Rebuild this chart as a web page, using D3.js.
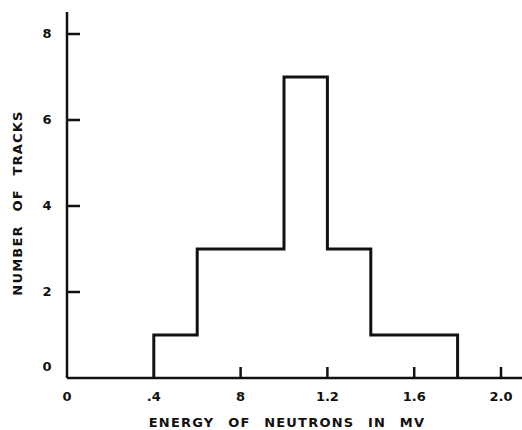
<!DOCTYPE html>
<html>
<head>
<meta charset="utf-8">
<script src="https://cdn.jsdelivr.net/npm/d3@7"></script>
<style>
  body { margin: 0; background: #fff; }
  text { font-family: "DejaVu Sans", sans-serif; font-weight: bold; fill: #111; }
</style>
</head>
<body>
<svg id="chart" width="522" height="430"></svg>
<script>
// histogram bins (energy in MV) and counts
var binEdges = [0.4, 0.6, 1.0, 1.2, 1.4, 1.8];
var counts = [1, 3, 7, 3, 1];
var xTicks = [0, 0.4, 0.8, 1.2, 1.6, 2.0];
var xTickLabels = ["0", ".4", "8", "1.2", "1.6", "2.0"];
var yTicks = [0, 2, 4, 6, 8];

var svg = d3.select("#chart");
var x = d3.scaleLinear().domain([0, 2.0]).range([67, 501]);
var y = d3.scaleLinear().domain([0, 8]).range([378, 34]);
var ink = "#111";

// axes
svg.append("line").attr("x1", x(0)).attr("x2", 522).attr("y1", y(0)).attr("y2", y(0))
  .attr("stroke", ink).attr("stroke-width", 2.5);
svg.append("line").attr("x1", x(0)).attr("x2", x(0)).attr("y1", y(0)).attr("y2", 12)
  .attr("stroke", ink).attr("stroke-width", 2.5);

// y ticks point inward
svg.selectAll(".ytick").data(yTicks.filter(function(d) { return d > 0; })).enter()
  .append("line").attr("class", "ytick")
  .attr("x1", x(0)).attr("x2", x(0) + 13)
  .attr("y1", function(d) { return y(d); }).attr("y2", function(d) { return y(d); })
  .attr("stroke", ink).attr("stroke-width", 2.5);
svg.selectAll(".ylab").data(yTicks).enter()
  .append("text").attr("class", "ylab")
  .attr("x", 47).attr("y", function(d) { return d === 0 ? y(d) - 12 : y(d) - 1; })
  .attr("text-anchor", "middle").attr("dominant-baseline", "central")
  .attr("font-size", 13).text(function(d) { return d; });

// x ticks point up
svg.selectAll(".xtick").data(xTicks.filter(function(d) { return d > 0.5; })).enter()
  .append("line").attr("class", "xtick")
  .attr("x1", function(d) { return x(d); }).attr("x2", function(d) { return x(d); })
  .attr("y1", y(0)).attr("y2", y(0) - 11)
  .attr("stroke", ink).attr("stroke-width", 2.5);
svg.selectAll(".xlab").data(xTicks).enter()
  .append("text").attr("class", "xlab")
  .attr("x", function(d) { return x(d); }).attr("y", 396)
  .attr("text-anchor", "middle").attr("dominant-baseline", "central")
  .attr("font-size", 13).text(function(d, i) { return xTickLabels[i]; });

// histogram outline
var pts = [[binEdges[0], 0]];
counts.forEach(function(c, i) {
  pts.push([binEdges[i], c]);
  pts.push([binEdges[i + 1], c]);
});
pts.push([binEdges[binEdges.length - 1], 0]);
svg.append("path")
  .attr("d", d3.line().x(function(d) { return x(d[0]); }).y(function(d) { return y(d[1]); })(pts))
  .attr("fill", "none").attr("stroke", ink).attr("stroke-width", 3)
  .attr("stroke-linejoin", "miter");

// axis titles
svg.append("text").attr("x", 287).attr("y", 422)
  .attr("text-anchor", "middle").attr("dominant-baseline", "central")
  .attr("font-size", 13).attr("letter-spacing", 1.2)
  .attr("word-spacing", 8)
  .text("ENERGY OF NEUTRONS IN MV");
svg.append("text")
  .attr("transform", "translate(17,203) rotate(-90)")
  .attr("text-anchor", "middle").attr("dominant-baseline", "central")
  .attr("font-size", 13).attr("letter-spacing", 1.2)
  .attr("word-spacing", 8)
  .text("NUMBER OF TRACKS");
</script>
</body>
</html>
